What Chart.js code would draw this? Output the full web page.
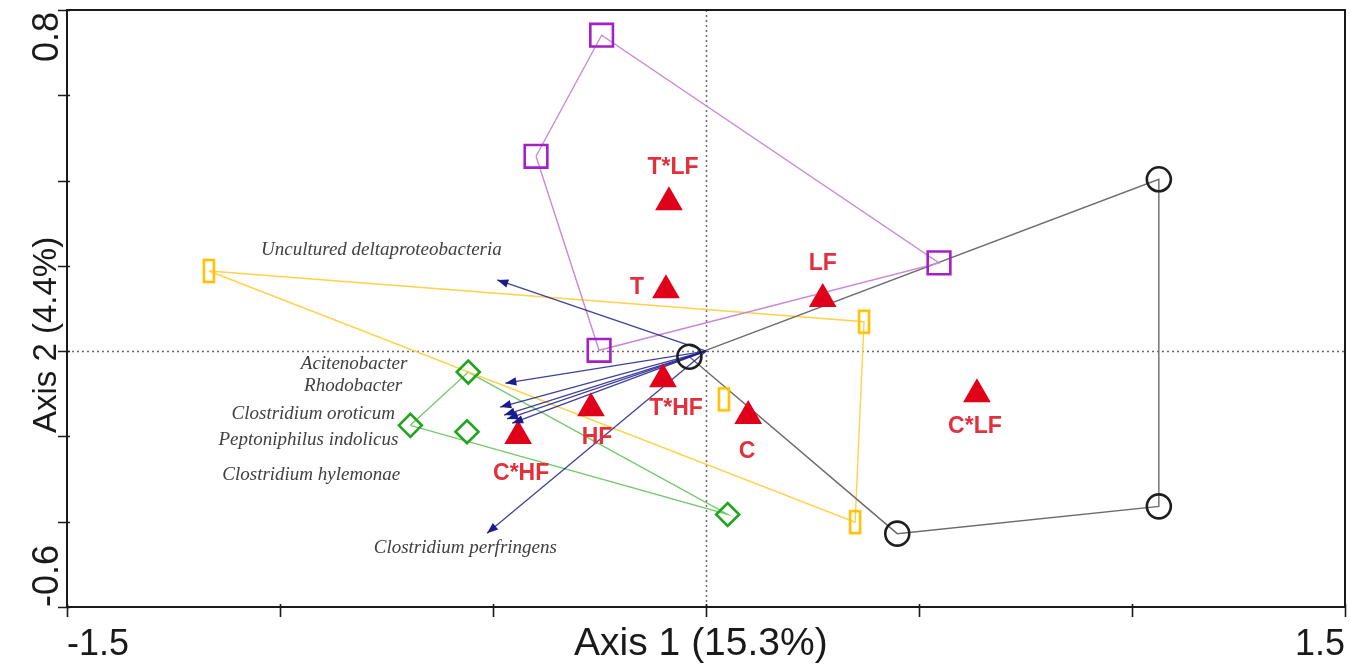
<!DOCTYPE html>
<html>
<head>
<meta charset="utf-8">
<script src="https://cdn.jsdelivr.net/npm/chart.js@4.4.1/dist/chart.umd.min.js"></script>
<style>
  html, body { margin: 0; padding: 0; background: #ffffff; }
  #wrap { width: 1350px; height: 665px; }
</style>
</head>
<body>
<div id="wrap"><canvas id="ord" width="1350" height="665"></canvas></div>
<script>
// ---------- values ----------
const squareX  = [-0.245, 0.547, -0.251, -0.399];
const squareY  = [ 0.741, 0.207,  0.002,  0.457];
const circleX  = [-0.039, 1.063,  1.063,  0.449];
const circleY  = [-0.013, 0.403, -0.364, -0.428];
const barX     = [-1.167, 0.371,  0.042,  0.350];
const barY     = [ 0.188, 0.069, -0.113, -0.401];
const diamondX = [-0.558, -0.694, -0.561, 0.051];
const diamondY = [-0.049, -0.174, -0.189, -0.383];

const centroidNames = ['T*LF', 'T', 'LF', 'T*HF', 'C', 'C*LF', 'HF', 'C*HF'];
const centroidX = [-0.087, -0.094, 0.274, -0.101, 0.099, 0.636, -0.270, -0.441];
const centroidY = [ 0.349,  0.143, 0.122, -0.066, -0.152, -0.101, -0.134, -0.199];

const speciesNames = [
  'Uncultured deltaproteobacteria', 'Acitenobacter', 'Rhodobacter',
  'Clostridium oroticum', 'Peptoniphilus indolicus', 'Clostridium hylemonae',
  'Clostridium perfringens'
];
const speciesX = [-0.490, -0.471, -0.483, -0.474, -0.467, -0.455, -0.514];
const speciesY = [ 0.167, -0.075, -0.131, -0.150, -0.159, -0.169, -0.427];

const xTickLabels = ['-1.5', '1.5'];
const yTickLabels = ['0.8', '-0.6'];
const xTitle = 'Axis 1 (15.3%)';
const yTitle = 'Axis 2 (4.4%)';

// ---------- label layout ----------
// pixel offsets of each centroid name from its triangle
const centroidLabelDX = [4, -29, 0, 13, -1, -2, 6, 3];
const centroidLabelDY = [-37, -4, -37, 27, 34, 30, 27, 36];
// anchor (axis units) and alignment of each species name
const speciesLabelX = [-0.762, -0.701, -0.713, -0.730, -0.722, -0.718, -0.565];
const speciesLabelY = [ 0.237, -0.030, -0.082, -0.148, -0.209, -0.291, -0.462];
const speciesLabelAlign = ['center', 'right', 'right', 'right', 'right', 'right', 'center'];

// ---------- helpers ----------
const zip = (xs, ys) => xs.map((x, i) => ({ x, y: ys[i] }));

// outline of a point group (monotone chain), closed back to its first vertex
function hull(points) {
  const p = points.slice().sort((a, b) => a.x - b.x || a.y - b.y);
  const cross = (o, a, b) => (a.x - o.x) * (b.y - o.y) - (a.y - o.y) * (b.x - o.x);
  const lower = [], upper = [];
  for (const q of p) {
    while (lower.length >= 2 && cross(lower[lower.length - 2], lower[lower.length - 1], q) <= 0) lower.pop();
    lower.push(q);
  }
  for (let i = p.length - 1; i >= 0; i--) {
    const q = p[i];
    while (upper.length >= 2 && cross(upper[upper.length - 2], upper[upper.length - 1], q) <= 0) upper.pop();
    upper.push(q);
  }
  const h = lower.slice(0, -1).concat(upper.slice(0, -1));
  return h.concat([h[0]]);
}

// tall narrow open rectangle marker
function barMarker() {
  const c = document.createElement('canvas');
  c.width = 16; c.height = 28;
  const g = c.getContext('2d');
  g.strokeStyle = '#ffc000';
  g.lineWidth = 2.6;
  g.strokeRect(3, 3, 10, 22);
  return c;
}

const groups = [
  { pts: zip(squareX, squareY),   line: '#c98ad9', mark: '#a31fc6', style: 'rect',    r: 16 },
  { pts: zip(circleX, circleY),   line: '#6b6b6b', mark: '#1e1e1e', style: 'circle',  r: 12 },
  { pts: zip(barX, barY),         line: '#ffd24a', mark: '#ffc000', style: barMarker(), r: 12 },
  { pts: zip(diamondX, diamondY), line: '#77c96f', mark: '#22a51c', style: 'rectRot', r: 11.5 }
];

const datasets = [];
groups.forEach(g => {
  datasets.push({
    data: hull(g.pts), showLine: true, borderColor: g.line, borderWidth: 1.4,
    pointRadius: 0, fill: false, tension: 0, order: 4
  });
});
groups.forEach(g => {
  datasets.push({
    data: g.pts, showLine: false, pointStyle: g.style, pointRadius: g.r,
    pointBorderColor: g.mark, pointBackgroundColor: 'rgba(0,0,0,0)',
    pointBorderWidth: 2.6, order: 2
  });
});
// species vectors from the origin
speciesX.forEach((x, i) => {
  datasets.push({
    data: [{ x: 0, y: 0 }, { x, y: speciesY[i] }], showLine: true,
    borderColor: 'rgba(30,30,140,0.85)', borderWidth: 1.3, pointRadius: 0,
    tension: 0, order: 3
  });
});
// treatment centroids
datasets.push({
  data: zip(centroidX, centroidY), showLine: false, pointStyle: 'triangle',
  pointRadius: 16, pointBackgroundColor: '#e1001a', pointBorderColor: '#e1001a',
  pointBorderWidth: 0, order: 1
});

const xMin = parseFloat(xTickLabels[0]), xMax = parseFloat(xTickLabels[1]);
const yMax = parseFloat(yTickLabels[0]), yMin = parseFloat(yTickLabels[1]);

const frame = {
  id: 'frame',
  beforeDatasetsDraw(chart) {
    const { ctx, chartArea: a, scales: { x, y } } = chart;
    ctx.save();
    // dotted zero lines
    ctx.strokeStyle = '#6a6a6a';
    ctx.lineWidth = 1.5;
    ctx.setLineDash([2, 3]);
    const x0 = Math.round(x.getPixelForValue(0)) + 0.5;
    const y0 = Math.round(y.getPixelForValue(0)) + 0.5;
    ctx.beginPath();
    ctx.moveTo(x0, a.top); ctx.lineTo(x0, a.bottom);
    ctx.moveTo(a.left, y0); ctx.lineTo(a.right, y0);
    ctx.stroke();
    ctx.restore();
  },
  afterDraw(chart) {
    const { ctx, chartArea: a, scales: { x, y } } = chart;
    ctx.save();
    ctx.strokeStyle = '#1a1a1a';
    ctx.lineWidth = 2;
    ctx.strokeRect(a.left, a.top, a.right - a.left, a.bottom - a.top);
    ctx.lineWidth = 1.6;
    ctx.beginPath();
    for (let v = xMin; v <= xMax + 1e-9; v += 0.5) {
      const px = Math.round(x.getPixelForValue(v)) + 0.5;
      ctx.moveTo(px, a.bottom - 3); ctx.lineTo(px, a.bottom + 10);
    }
    for (let v = yMin; v <= yMax + 1e-9; v += 0.2) {
      const py = Math.round(y.getPixelForValue(v)) + 0.5;
      ctx.moveTo(a.left - 9, py); ctx.lineTo(a.left + 3, py);
    }
    ctx.stroke();

    ctx.fillStyle = '#1a1a1a';
    ctx.textBaseline = 'alphabetic';
    const base = a.bottom + 48;
    ctx.font = '36px "Liberation Sans", Arial, sans-serif';
    ctx.textAlign = 'left';
    ctx.fillText(xTickLabels[0], x.getPixelForValue(xMin), base);
    ctx.textAlign = 'right';
    ctx.fillText(xTickLabels[1], x.getPixelForValue(xMax), base);
    ctx.font = '39px "Liberation Sans", Arial, sans-serif';
    ctx.textAlign = 'center';
    ctx.fillText(xTitle, x.getPixelForValue(-0.012), base);

    const rot = (text, px, py, align) => {
      ctx.save();
      ctx.translate(px, py);
      ctx.rotate(-Math.PI / 2);
      ctx.textAlign = align;
      ctx.fillText(text, 0, 0);
      ctx.restore();
    };
    const bx = a.left - 9;
    ctx.font = '36px "Liberation Sans", Arial, sans-serif';
    rot(yTickLabels[0], bx, y.getPixelForValue(yMax) + 2, 'right');
    rot(yTickLabels[1], bx, y.getPixelForValue(yMin), 'left');
    ctx.font = '33px "Liberation Sans", Arial, sans-serif';
    rot(yTitle, bx - 2, y.getPixelForValue(0.038), 'center');
    ctx.restore();
  }
};

const annotations = {
  id: 'annotations',
  afterDatasetsDraw(chart) {
    const { ctx, scales: { x, y } } = chart;
    ctx.save();
    // arrow heads
    ctx.fillStyle = '#1b1b8c';
    speciesX.forEach((sx, i) => {
      const tx = x.getPixelForValue(sx), ty = y.getPixelForValue(speciesY[i]);
      const ox = x.getPixelForValue(0), oy = y.getPixelForValue(0);
      const ang = Math.atan2(ty - oy, tx - ox);
      const L = 11, W = 4.2;
      ctx.beginPath();
      ctx.moveTo(tx, ty);
      ctx.lineTo(tx - L * Math.cos(ang) + W * Math.sin(ang), ty - L * Math.sin(ang) - W * Math.cos(ang));
      ctx.lineTo(tx - L * Math.cos(ang) - W * Math.sin(ang), ty - L * Math.sin(ang) + W * Math.cos(ang));
      ctx.closePath();
      ctx.fill();
    });
    // species names
    ctx.fillStyle = '#404040';
    ctx.font = 'italic 19px "Liberation Serif", "Times New Roman", serif';
    ctx.textBaseline = 'middle';
    speciesNames.forEach((n, i) => {
      ctx.textAlign = speciesLabelAlign[i];
      ctx.fillText(n, x.getPixelForValue(speciesLabelX[i]), y.getPixelForValue(speciesLabelY[i]));
    });
    // treatment names
    ctx.fillStyle = '#e2303c';
    ctx.font = 'bold 23px "Liberation Sans", Arial, sans-serif';
    ctx.textAlign = 'center';
    ctx.textBaseline = 'alphabetic';
    centroidNames.forEach((n, i) => {
      const px = x.getPixelForValue(centroidX[i]) + centroidLabelDX[i];
      const py = y.getPixelForValue(centroidY[i]) + centroidLabelDY[i];
      ctx.fillText(n, px, py + 8.3);
    });
    ctx.restore();
  }
};

new Chart(document.getElementById('ord'), {
  type: 'scatter',
  data: { datasets },
  options: {
    responsive: false,
    animation: false,
    devicePixelRatio: 1,
    layout: { autoPadding: false, padding: { left: 67, top: 10, right: 5, bottom: 58 } },
    scales: {
      x: { type: 'linear', min: xMin, max: xMax, display: false },
      y: { type: 'linear', min: yMin, max: yMax, display: false }
    },
    plugins: { legend: { display: false }, tooltip: { enabled: false } },
    events: []
  },
  plugins: [frame, annotations]
});
</script>
</body>
</html>
